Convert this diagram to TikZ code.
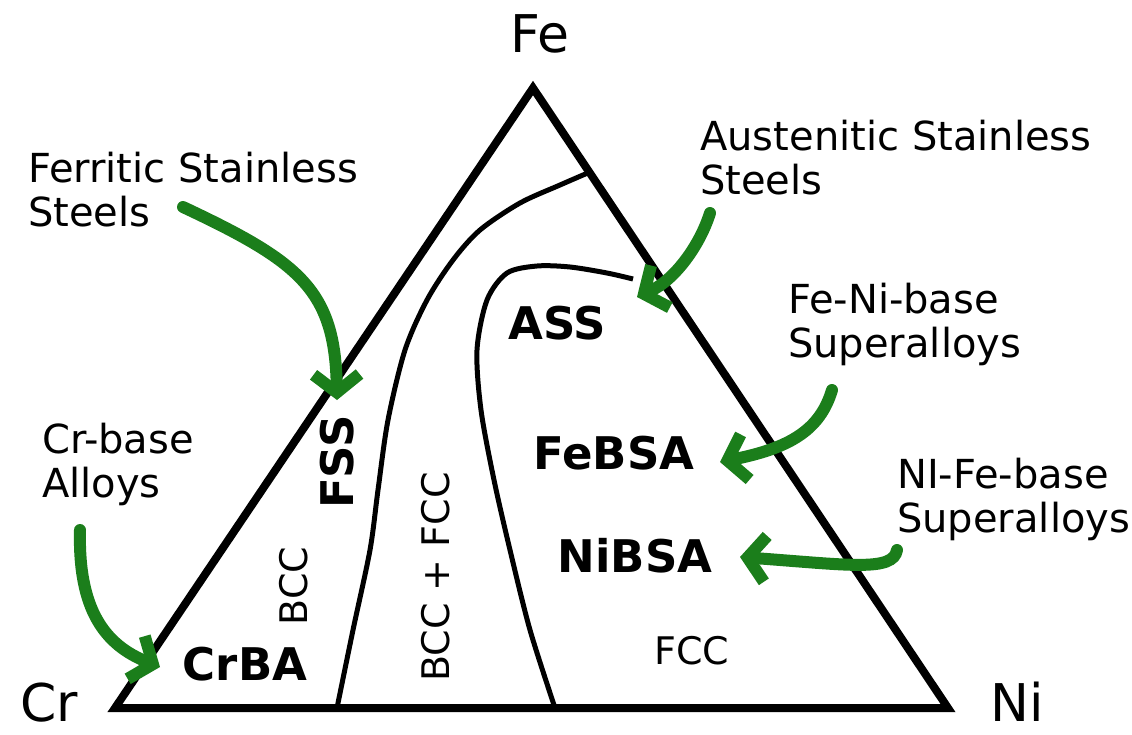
\documentclass[tikz,border=0pt]{standalone}
\usepackage{fontspec}
\setmainfont{DejaVu Sans}
\usepackage{tikz}
\usetikzlibrary{arrows.meta,positioning,calc}
\definecolor{clPointer}{HTML}{1B7E1B}
\tikzset{
  edge/.style={line width=8pt},
  phaseline/.style={line width=5pt},
  pointer/.style={draw=clPointer, line width=12pt, line cap=round,
                  -{Straight Barb[length=18pt,width=46pt]}},
  note/.style={anchor=north west, inner sep=0pt, align=left,
               font=\fontsize{40}{44}\selectfont},
  alloy/.style={inner sep=0pt, font=\bfseries\fontsize{45}{50}\selectfont},
  phase/.style={inner sep=0pt, font=\fontsize{38}{42}\selectfont},
  element/.style={inner sep=0pt, font=\fontsize{52}{58}\selectfont},
}
\begin{document}
\begin{tikzpicture}[x=1pt, y=-1pt]
  \useasboundingbox (0,0) rectangle (1132,734);
  % corners of the ternary
  \coordinate (cr) at (115,708);
  \coordinate (fe) at (533,88);
  \coordinate (ni) at (948,708);
  \draw[edge] (cr) -- (fe) -- (ni) -- cycle;
  \node[element] (feLabel) at (540,34) {Fe};
  \node[element] (crLabel) at (49,703) {Cr};
  \node[element] (niLabel) at (1017,702) {Ni};
  % phase boundaries
  \draw[phaseline] plot[smooth] coordinates {(590,172) (560,185) (520,203)
    (480,230) (453,260) (427,300) (405,350) (388,420) (378,490) (370,550)
    (353,630) (337,708)};
  \draw[phaseline] plot[smooth] coordinates {(633,279) (607,273) (570,267)
    (537,266) (507,273) (487,300) (477,350) (481,410) (494,480) (510,550)
    (530,630) (555,708)};
  % regions
  \node[alloy] (ass) at (557,323) {ASS};
  \node[alloy] (febsa) at (614,453) {FeBSA};
  \node[alloy] (nibsa) at (635,556) {NiBSA};
  \node[alloy] (crba) at (245,664) {CrBA};
  \node[alloy, rotate=90] (fss) at (337,462) {FSS};
  \node[phase, rotate=90] (bcc) at (294,586) {BCC};
  \node[phase, rotate=90] (duplex) at (436,577) {BCC + FCC};
  \node[phase] (fcc) at (692,651) {FCC};
  % annotations
  \node[note] (ferritic) at (28,152) {Ferritic Stainless\\Steels};
  \node[note] (austenitic) at (700,120) {Austenitic Stainless\\Steels};
  \node[note] (feni) at (788,283) {Fe-Ni-base\\Superalloys};
  \node[note] (nife) at (897,458) {NI-Fe-base\\Superalloys};
  \node[note] (crbase) at (42,423) {Cr-base\\Alloys};
  \coordinate (ferriticTail) at (183,207);
  \coordinate (ferriticTip) at (337,400);
  \coordinate (austeniticTail) at (710,213);
  \coordinate (austeniticTip) at (637,297);
  \coordinate (feniTail) at (832,390);
  \coordinate (feniTip) at (720,462);
  \coordinate (nifeTail) at (897,550);
  \coordinate (nifeTip) at (740,557);
  \coordinate (crbaseTail) at (80,530);
  \coordinate (crbaseTip) at (160,667);
  \draw[pointer] (ferriticTail) .. controls (300,262) and (335,290) .. (ferriticTip);
  \draw[pointer] (austeniticTail) .. controls (700,245) and (675,280) .. (austeniticTip);
  \draw[pointer] (feniTail) .. controls (820,430) and (790,448) .. (feniTip);
  \draw[pointer] (nifeTail) .. controls (893,572) and (850,565) .. (nifeTip);
  \draw[pointer] (crbaseTail) .. controls (78,610) and (105,645) .. (crbaseTip);
\end{tikzpicture}
\end{document}
